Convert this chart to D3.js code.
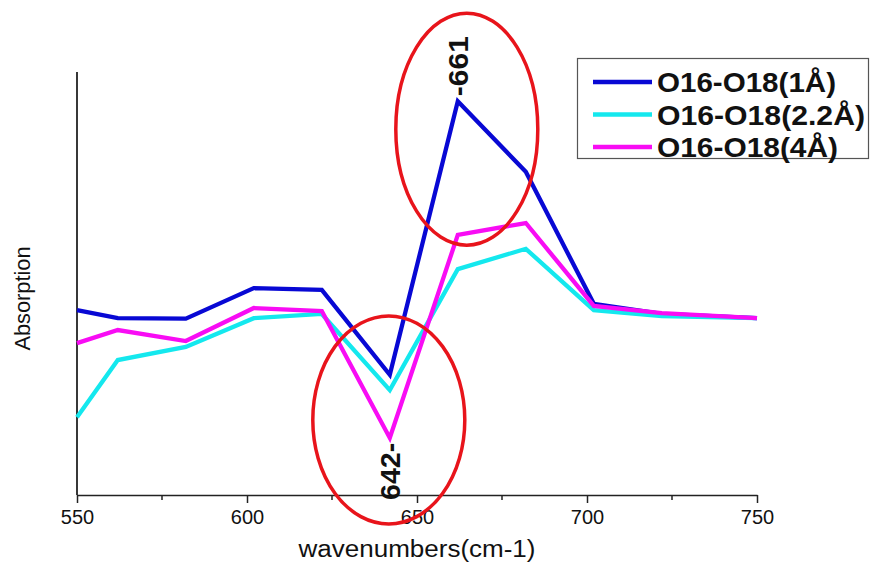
<!DOCTYPE html>
<html><head><meta charset="utf-8">
<script src="https://cdn.jsdelivr.net/npm/d3@7"></script>
<style>html,body{margin:0;padding:0;background:#fff}svg{display:block}text{font-family:"Liberation Sans",Arial,sans-serif}</style>
</head><body><div id="chart"></div>
<script>
const wavenumbers = [550, 562, 582, 602, 622, 642, 662, 682, 702, 722, 750];
const seriesNames = ["O16-O18(1Å)", "O16-O18(2.2Å)", "O16-O18(4Å)"];
const absorption1A  = [43.7, 41.8, 41.7, 48.9, 48.5, 28.4, 93.1, 76.4, 45.2, 42.8, 41.8];
const absorption22A = [18.4, 31.9, 35.0, 41.8, 42.8, 24.8, 53.4, 58.2, 43.7, 42.3, 41.8];
const absorption4A  = [35.9, 39.0, 36.4, 44.2, 43.5, 13.5, 61.5, 64.3, 44.7, 43.0, 41.8];
const seriesColors = ["#0808d4", "#14e8ee", "#f80cf4"];
const xTicks = [550, 600, 650, 700, 750];
const xMinorTicks = [575, 625, 675, 725];
const peakLabel = "-661", dipLabel = "642-";

const W = 873, H = 563;
const m = {left: 77, right: 116, top: 72, bottom: 68};
const svg = d3.select("#chart").append("svg").attr("width", W).attr("height", H);
const x = d3.scaleLinear().domain([550, 750]).range([m.left, W - m.right]);
const y = d3.scaleLinear().domain([0, 100]).range([H - m.bottom, m.top]);
const y0 = H - m.bottom;

// axes
const xAxis = d3.axisBottom(x).tickValues(xTicks).tickSize(8).tickSizeOuter(0).tickPadding(7).tickFormat(d3.format("d"));
const gx = svg.append("g").attr("transform", `translate(0,${y0})`).call(xAxis);
gx.select(".domain").attr("stroke", "#222").attr("stroke-width", 1.5);
gx.selectAll(".tick line").attr("stroke", "#222").attr("stroke-width", 1.5);
gx.selectAll(".tick text").attr("font-size", 20).attr("fill", "#111").style("font-family", '"Liberation Sans",Arial,sans-serif');
svg.append("g").selectAll("line").data(xMinorTicks).join("line")
  .attr("x1", d => x(d)).attr("x2", d => x(d)).attr("y1", y0).attr("y2", y0 + 5)
  .attr("stroke", "#222").attr("stroke-width", 1.5);
svg.append("line").attr("x1", m.left).attr("x2", m.left).attr("y1", m.top).attr("y2", y0)
  .attr("stroke", "#222").attr("stroke-width", 1.8);

svg.append("text").attr("x", x(650)).attr("y", 557).attr("text-anchor", "middle")
  .attr("font-size", 23).attr("fill", "#111").attr("textLength", 237).attr("lengthAdjust", "spacingAndGlyphs")
  .text("wavenumbers(cm-1)");
svg.append("text").attr("transform", `translate(30,${(m.top + y0) / 2 + 15}) rotate(-90)`).attr("text-anchor", "middle")
  .attr("font-size", 22).attr("fill", "#111").attr("textLength", 104).attr("lengthAdjust", "spacingAndGlyphs")
  .text("Absorption");

// lines
const allSeries = [absorption1A, absorption22A, absorption4A];
const line = d3.line().x((d, i) => x(wavenumbers[i])).y(d => y(d));
allSeries.forEach((s, k) => {
  svg.append("path").datum(s).attr("d", line).attr("fill", "none")
    .attr("stroke", seriesColors[k]).attr("stroke-width", 4.3).attr("stroke-linejoin", "miter");
});

// annotations
const pkX = x(wavenumbers[6]), pkY = y(absorption1A[6]);
const dpX = x(wavenumbers[5]), dpY = y(absorption4A[5]);
svg.append("ellipse").attr("cx", pkX + 9).attr("cy", pkY + 28).attr("rx", 71).attr("ry", 116)
  .attr("fill", "none").attr("stroke", "#e8141b").attr("stroke-width", 3.5);
svg.append("ellipse").attr("cx", dpX - 1).attr("cy", dpY - 18).attr("rx", 76).attr("ry", 104)
  .attr("fill", "none").attr("stroke", "#e8141b").attr("stroke-width", 3.5);
svg.append("text").attr("transform", `translate(${pkX + 10},${pkY - 5}) rotate(-90)`)
  .attr("text-anchor", "start").attr("font-size", 28).attr("font-weight", "bold").attr("fill", "#111")
  .attr("textLength", 60).attr("lengthAdjust", "spacingAndGlyphs")
  .text(peakLabel);
svg.append("text").attr("transform", `translate(${dpX + 10},${dpY + 5}) rotate(-90)`)
  .attr("text-anchor", "end").attr("font-size", 28).attr("font-weight", "bold").attr("fill", "#111")
  .attr("textLength", 57).attr("lengthAdjust", "spacingAndGlyphs")
  .text(dipLabel);

// legend
const legendWidths = [179, 208, 181];
const lg = svg.append("g");
lg.append("rect").attr("x", 577.5).attr("y", 58.5).attr("width", 291).attr("height", 100)
  .attr("fill", "#fff").attr("stroke", "#555").attr("stroke-width", 1.2);
seriesNames.forEach((n, k) => {
  const yy = 82 + k * 32.5;
  lg.append("line").attr("x1", 593).attr("x2", 652).attr("y1", yy).attr("y2", yy)
    .attr("stroke", seriesColors[k]).attr("stroke-width", 4.5);
  lg.append("text").attr("x", 657).attr("y", yy + 10).attr("font-size", 28).attr("font-weight", "bold")
    .attr("fill", "#111").attr("textLength", legendWidths[k]).attr("lengthAdjust", "spacingAndGlyphs").text(n);
});
</script></body></html>
